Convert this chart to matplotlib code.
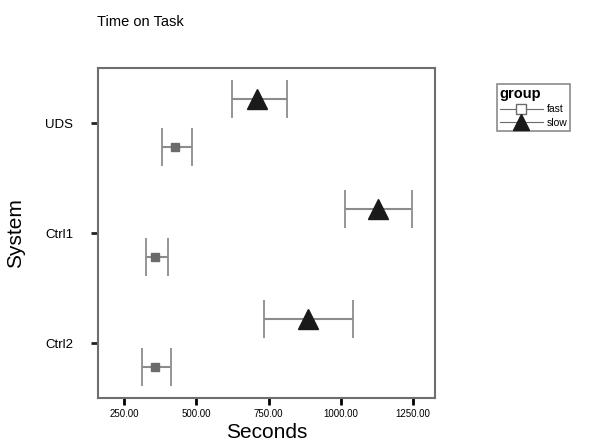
import matplotlib
matplotlib.use('Agg')
import matplotlib.pyplot as plt
import numpy as np

plt.rcParams['font.family'] = ['Liberation Sans', 'DejaVu Sans']

# Systems, top to bottom
systems = ['UDS', 'Ctrl1', 'Ctrl2']

# Mean time (s) and error bar limits
slow_mean = [710, 1129, 887]
slow_low = [624, 1015, 734]
slow_high = [814, 1246, 1042]

fast_mean = [426, 357, 357]
fast_low = [381, 325, 313]
fast_high = [485, 403, 412]

xticks = [250, 500, 750, 1000, 1250]

pos = np.arange(len(systems))
slow_mean = np.array(slow_mean)
fast_mean = np.array(fast_mean)
slow_err = [slow_mean - np.array(slow_low), np.array(slow_high) - slow_mean]
fast_err = [fast_mean - np.array(fast_low), np.array(fast_high) - fast_mean]

fig = plt.figure(figsize=(5.95, 4.46), dpi=100)
ax = fig.add_axes([98 / 595, 1 - 398 / 446, 337 / 595, 330 / 446])

bar_col = '#8c8c8c'
# error bars first, markers on top
ax.errorbar(fast_mean, pos + 0.215, xerr=fast_err, fmt='none', ecolor=bar_col,
            elinewidth=1.5, capsize=14, capthick=1.3, zorder=2)
ax.errorbar(slow_mean, pos - 0.215, xerr=slow_err, fmt='none', ecolor=bar_col,
            elinewidth=1.5, capsize=14, capthick=1.3, zorder=2)
ax.plot(fast_mean, pos + 0.215, linestyle='none', marker='s', markersize=5.5,
        color='#6b6b6b', zorder=3)
ax.plot(slow_mean, pos - 0.215, linestyle='none', marker='^', markersize=14,
        color='#1a1a1a', zorder=3)

ax.set_xlim(160, 1326)
ax.set_ylim(2.5, -0.5)
ax.set_xticks(xticks)
ax.set_xticklabels([f'{v:.2f}' for v in xticks], fontsize=7)
ax.set_yticks(pos)
ax.set_yticklabels(systems, fontsize=9.5)
ax.tick_params(axis='x', length=5, width=2, color='black', pad=3)
ax.tick_params(axis='y', length=5, width=2, color='#222222', pad=13)
for s in ax.spines.values():
    s.set_color('#6e6e6e')
    s.set_linewidth(1.5)

ax.set_xlabel('Seconds', fontsize=15, labelpad=3)
ax.set_ylabel('System', fontsize=15, labelpad=14)
fig.text(97 / 595, 1 - 26 / 446, 'Time on Task', fontsize=10.5)

# legend handles
h_fast, = ax.plot([], [], color='#6b6b6b', lw=0.8, marker='s', markersize=7,
                  markerfacecolor='white', markeredgecolor='#6b6b6b')
h_slow, = ax.plot([], [], color='#6b6b6b', lw=0.8, marker='^', markersize=11,
                  markerfacecolor='#1a1a1a', markeredgecolor='#1a1a1a')
leg = fig.legend([h_fast, h_slow], ['fast', 'slow'], title='group',
                 loc='upper left', bbox_to_anchor=(497 / 595, 1 - 84 / 446),
                 fontsize=7.5, title_fontproperties={'weight': 'bold', 'size': 10.5},
                 alignment='left', frameon=True, fancybox=False,
                 edgecolor='#6e6e6e', handlelength=4.2, handletextpad=0.3,
                 borderpad=0.25, labelspacing=0.35, borderaxespad=0)
leg.get_frame().set_linewidth(1.2)

plt.savefig('out.png', dpi=100)
